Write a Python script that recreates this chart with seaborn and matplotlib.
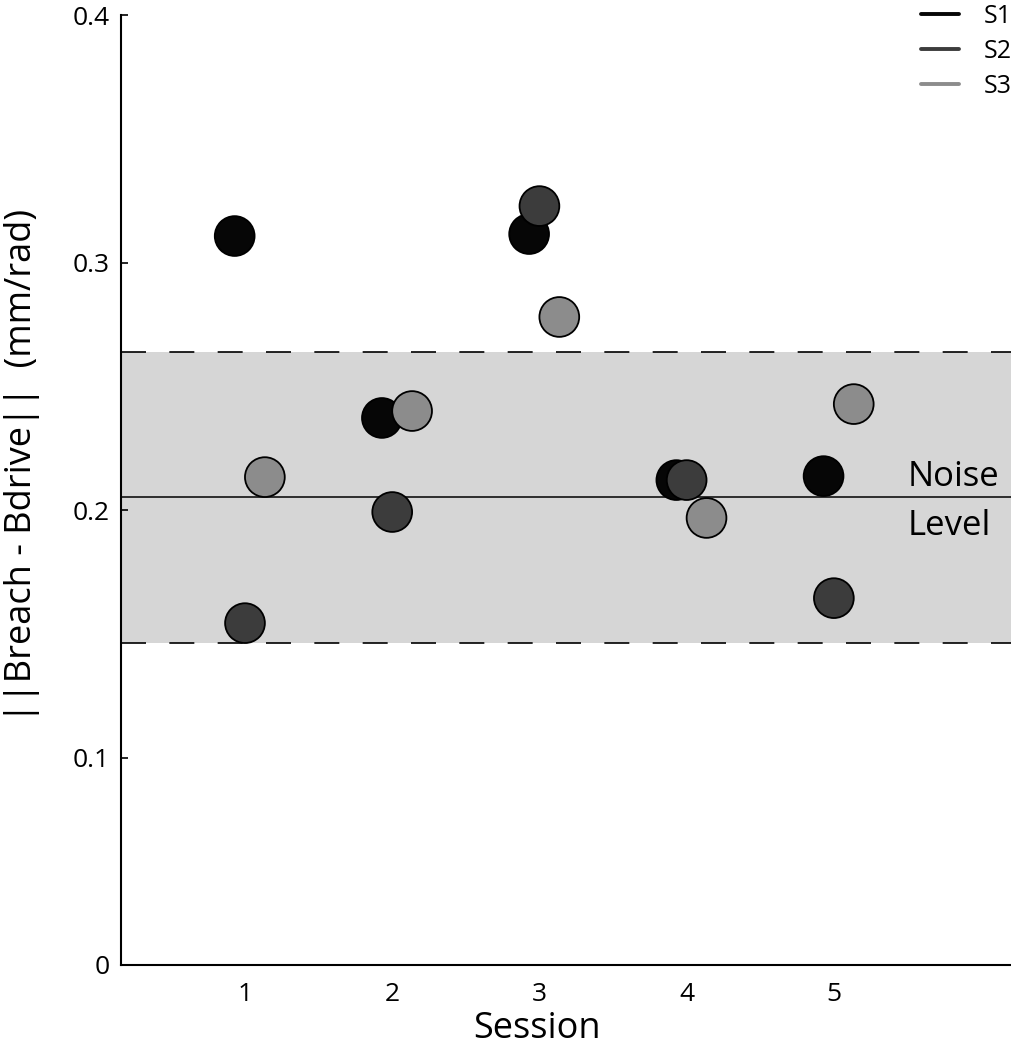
"""Per-session distance between reach and drive matrices, three subjects."""

import matplotlib.pyplot as plt
import pandas as pd
import seaborn as sns
from matplotlib.lines import Line2D

# Data
sessions = [1, 2, 3, 4, 5]
s1_values = [0.3107, 0.2372, 0.3115, 0.2121, 0.2137]
s2_values = [0.1543, 0.1992, 0.3228, 0.2121, 0.1644]
s3_values = [0.2133, 0.2400, 0.2780, 0.1968, 0.2428]
subjects = ["S1", "S2", "S3"]
subject_colors = ["#060606", "#3c3c3c", "#8c8c8c"]
subject_offsets = [-0.07, 0.0, 0.135]  # horizontal jitter so the dots don't overlap

noise_level = 0.2053
noise_low = 0.1463
noise_high = 0.2638

y_bottom = 0.0162
y_ticks = [y_bottom, 0.1, 0.2, 0.3, 0.4]
y_tick_labels = ["0", "0.1", "0.2", "0.3", "0.4"]

# Build long-form table
rows = []
for subj, off, vals in zip(subjects, subject_offsets, [s1_values, s2_values, s3_values]):
    for sess, v in zip(sessions, vals):
        rows.append({"subject": subj, "x": sess + off, "value": v})
df = pd.DataFrame(rows)

sns.set_style("white")
plt.rcParams["font.family"] = ["Open Sans", "DejaVu Sans"]
plt.rcParams["text.color"] = "black"
plt.rcParams["axes.labelcolor"] = "black"
plt.rcParams["xtick.color"] = "black"
plt.rcParams["ytick.color"] = "black"

fig = plt.figure(figsize=(10.12, 10.5), dpi=100)
ax = fig.add_axes([0.1196, 0.081, 0.8804, 0.9047])

# Noise band
ax.axhspan(noise_low, noise_high, color="#d6d6d6", lw=0, zorder=0)
for yv in (noise_low, noise_high):
    ax.axhline(yv, color="black", lw=1.2, dashes=(15, 14), zorder=1)
ax.axhline(noise_level, color="black", lw=1.1, zorder=1)

sns.scatterplot(
    data=df,
    x="x",
    y="value",
    hue="subject",
    palette=dict(zip(subjects, subject_colors)),
    s=820,
    edgecolor="black",
    linewidth=1.3,
    legend=False,
    ax=ax,
    zorder=3,
)

ax.text(5.5, noise_level + 0.001, "Noise", fontsize=25, ha="left", va="bottom")
ax.text(5.5, noise_level - 0.005, "Level", fontsize=25, ha="left", va="top")

ax.set_xlim(0.158, 6.21)
ax.set_ylim(y_bottom, 0.4)
ax.set_xticks(sessions)
ax.set_yticks(y_ticks)
ax.set_yticklabels(y_tick_labels)
ax.tick_params(axis="x", length=0, pad=12, labelsize=19)
ax.tick_params(axis="y", direction="in", length=5, width=1.2, pad=8, labelsize=19, left=True)

ax.set_xlabel("Session", fontsize=26)
ax.set_ylabel("||Breach - Bdrive||  (mm/rad)", fontsize=26)
ax.xaxis.set_label_coords(0.467, -0.048)
ax.yaxis.set_label_coords(-0.091, 0.526)

for side in ["top", "right"]:
    ax.spines[side].set_visible(False)
for side in ["left", "bottom"]:
    ax.spines[side].set_linewidth(1.5)
    ax.spines[side].set_color("black")

handles = [Line2D([0], [0], color=c, lw=2.8) for c in subject_colors]
fig.legend(
    handles,
    subjects,
    loc="upper right",
    bbox_to_anchor=(1.012, 1.008),
    frameon=False,
    fontsize=18,
    handlelength=1.5,
    handletextpad=1.0,
    labelspacing=0.4,
    borderaxespad=0.1,
)

fig.savefig("out.png", dpi=100)
plt.close(fig)
